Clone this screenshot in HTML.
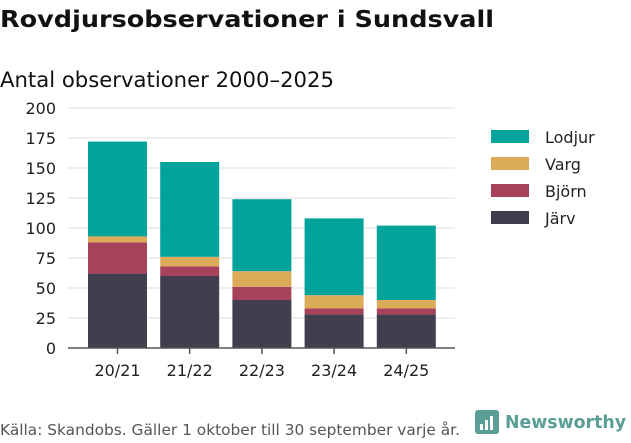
<!DOCTYPE html>
<html><head><meta charset="utf-8"><style>
body{margin:0;background:#fff;font-family:"DejaVu Sans","Liberation Sans",sans-serif;}
svg text{font-family:"DejaVu Sans","Liberation Sans",sans-serif;}
</style></head><body>
<svg id="c" width="631" height="439">
<text x="0" y="27" font-size="23" font-weight="bold" fill="#111" textLength="494" lengthAdjust="spacingAndGlyphs">Rovdjursobservationer i Sundsvall</text>
<text x="0" y="87" font-size="21" fill="#111" textLength="334" lengthAdjust="spacingAndGlyphs">Antal observationer 2000–2025</text>
<g id="grid"></g><g id="bars"></g><g id="axes"></g><g id="legend"></g>
<text x="0" y="435" font-size="15" fill="#555" textLength="460" lengthAdjust="spacingAndGlyphs">Källa: Skandobs. Gäller 1 oktober till 30 september varje år.</text>
<g>
<rect x="475" y="410" width="24" height="24" rx="3" fill="#5a9e96"/>
<rect x="480" y="424" width="3" height="6" fill="#fff"/><rect x="485" y="420" width="3" height="10" fill="#fff"/><rect x="490" y="416" width="3" height="14" fill="#fff"/>
<text x="505" y="428" font-size="18" font-weight="bold" fill="#5a9e96" textLength="121" lengthAdjust="spacingAndGlyphs">Newsworthy</text>
</g>
</svg>
<script>
const categories=["20/21","21/22","22/23","23/24","24/25"];
const jarv=[62,60,40,28,28];
const bjorn=[26,8,11,5,5];
const varg=[5,8,13,11,7];
const lodjur=[79,79,60,64,62];
const yTicks=[0,25,50,75,100,125,150,175,200];
const ns="http://www.w3.org/2000/svg";
const y0=348,k=1.2,x0=68,x1=455,step=72.2,bw=59,bx0=88;
const Y=v=>y0-v*k;
const X=i=>bx0+i*step;
function mk(t,a,p){const e=document.createElementNS(ns,t);for(const n in a)e.setAttribute(n,a[n]);p.appendChild(e);return e;}
const grid=document.getElementById('grid'),bars=document.getElementById('bars'),axes=document.getElementById('axes'),leg=document.getElementById('legend');
yTicks.forEach(v=>{
 if(v>0){const l=mk('line',{x1:x0,x2:x1,y1:Y(v),y2:Y(v),stroke:'#ddd','stroke-width':1},grid);
 
 }
 const t=mk('text',{x:56,y:Y(v)+6,'font-size':16,'text-anchor':'end',fill:'#222'},axes);t.textContent=v;
 
 
});
const series=[[jarv,'#413f4e','jarv'],[bjorn,'#a7425c','bjorn'],[varg,'#dbab5a','varg'],[lodjur,'#01a39a','lodjur']];
categories.forEach((c,i)=>{
 let cum=0;
 series.forEach(([arr,col,nm])=>{
  const r=mk('rect',{x:X(i),width:bw,y:Y(cum+arr[i]),height:arr[i]*k,fill:col},bars);
  
  
  cum+=arr[i];
 });
 const tk=mk('line',{x1:X(i)+bw/2,x2:X(i)+bw/2,y1:y0,y2:y0+6,stroke:'#555','stroke-width':1.5},axes);
 
 
 const t=mk('text',{x:X(i)+bw/2,y:376,'font-size':16,'text-anchor':'middle',fill:'#222'},axes);t.textContent=c;
 
 
});
const ax=mk('line',{x1:x0,x2:x1,y1:y0,y2:y0,stroke:'#555','stroke-width':1.5},axes);


[['Lodjur','#01a39a'],['Varg','#dbab5a'],['Björn','#a7425c'],['Järv','#413f4e']].forEach(([n,col],j)=>{
 const g=mk('g',{},leg);
 
 
 mk('rect',{x:491,y:130+j*27,width:38,height:13,fill:col},g);
 const t=mk('text',{x:545,y:143+j*27,'font-size':16,fill:'#222'},g);t.textContent=n;
});
</script>
</body></html>
